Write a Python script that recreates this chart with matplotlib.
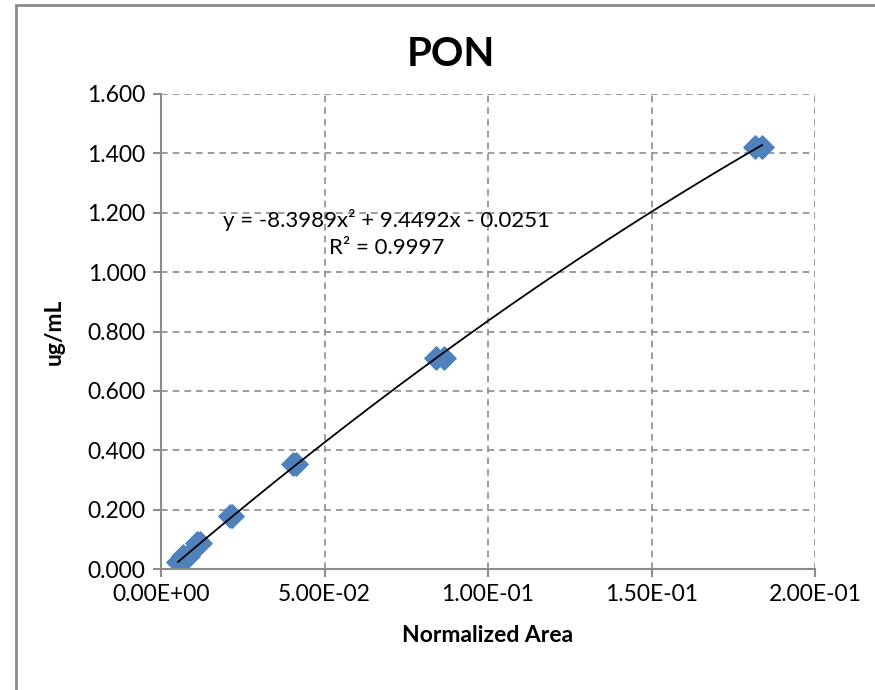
import numpy as np
import matplotlib.pyplot as plt
from matplotlib.patches import Rectangle

plt.rcParams['font.family'] = ['Lato', 'DejaVu Sans']

# --- data ---
norm_area = [0.0052, 0.0060, 0.0067, 0.0083, 0.0110, 0.0119, 0.0211, 0.0217,
             0.0404, 0.0413, 0.0841, 0.0865, 0.1817, 0.1838]
ug_ml = [0.022, 0.022, 0.044, 0.044, 0.089, 0.089, 0.178, 0.178,
         0.355, 0.355, 0.710, 0.710, 1.420, 1.420]
fit_coef = [-8.3989, 9.4492, -0.0251]   # polynomial trendline (x^2, x, 1)
r_squared = 0.9997
x_ticks = [0.0, 0.05, 0.10, 0.15, 0.20]
x_tick_labels = ["0.00E+00", "5.00E-02", "1.00E-01", "1.50E-01", "2.00E-01"]
y_ticks = [0.0, 0.2, 0.4, 0.6, 0.8, 1.0, 1.2, 1.4, 1.6]

fig = plt.figure(figsize=(8.75, 6.9), dpi=100)
W, H = 875, 690
ax = fig.add_axes([161 / W, 1 - 569 / H, (815 - 161) / W, (569 - 94) / H])

# outer chart border (cropped on right/bottom)
fig.add_artist(Rectangle((16 / W, -0.1), 1.2, 1 - 5 / H + 0.1,
                         transform=fig.transFigure, fill=False,
                         edgecolor="#8c8c8c", linewidth=2))

xs = np.linspace(min(norm_area), max(norm_area), 200)
ax.plot(xs, np.polyval(fit_coef, xs), color="black", linewidth=1.3, zorder=3)
ax.scatter(norm_area, ug_ml, marker="D", s=140, color="#4f81bd",
           edgecolors="#4f81bd", zorder=2)

eq = (f"y = {fit_coef[0]}x² + {fit_coef[1]}x - {abs(fit_coef[2])}\n"
      f"R² = {r_squared}")
ax.text(0.069, 1.13, eq, ha="center", va="center", fontsize=16,
        linespacing=1.4)

ax.set_xlim(0, 0.2)
ax.set_ylim(0, 1.6)
ax.set_xticks(x_ticks)
ax.set_xticklabels(x_tick_labels)
ax.set_yticks(y_ticks)
ax.set_yticklabels([f"{v:.3f}" for v in y_ticks])
ax.tick_params(labelsize=16.5, length=6, width=1.5, color="#8c8c8c",
               direction="out", pad=5)
ax.grid(True, color="#8c8c8c", linestyle=(0, (4, 3)), linewidth=1.2)
ax.set_axisbelow(True)
for s in ["top", "right"]:
    ax.spines[s].set_visible(False)
for s in ["left", "bottom"]:
    ax.spines[s].set_color("#8c8c8c")
    ax.spines[s].set_linewidth(1.5)

ax.set_title("PON", fontsize=29, fontweight="bold", pad=20, x=0.443)
ax.set_xlabel("Normalized Area", fontsize=16.5, fontweight="bold", labelpad=14)
ax.set_ylabel("ug/mL", fontsize=16.5, fontweight="bold", labelpad=16)

fig.savefig("out.png", dpi=100)
